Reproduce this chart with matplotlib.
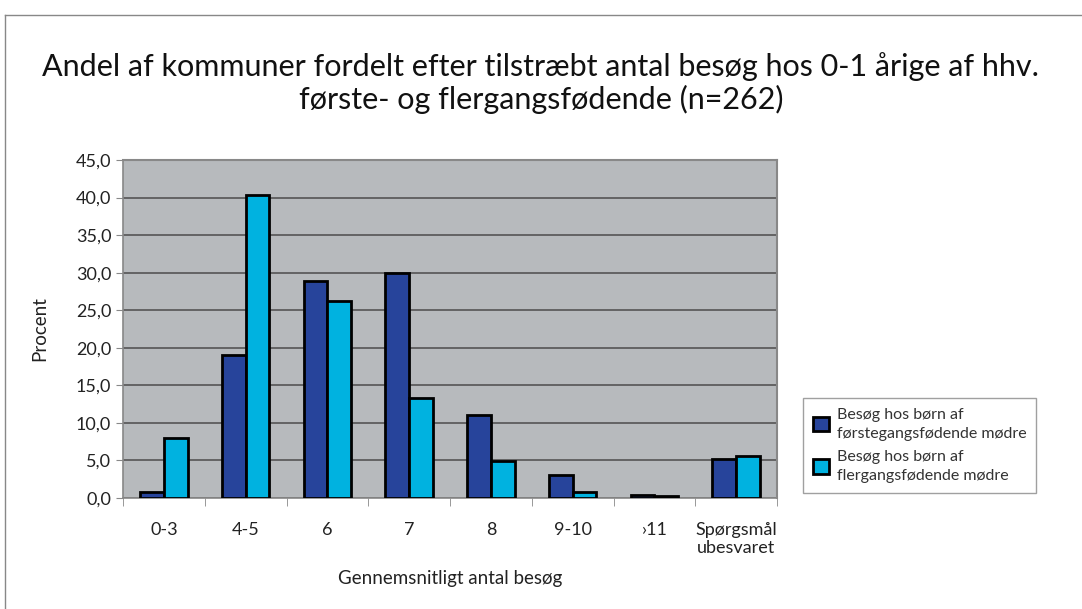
import matplotlib
matplotlib.use("Agg")
import matplotlib.pyplot as plt
import numpy as np
from matplotlib.ticker import FuncFormatter, FixedLocator

categories = ["0-3", "4-5", "6", "7", "8", "9-10", "›11", "Spørgsmål\nubesvaret"]
first_time = [0.8, 19.0, 28.9, 29.9, 11.0, 3.1, 0.4, 5.2]
multi_time = [8.0, 40.3, 26.2, 13.3, 4.9, 0.8, 0.3, 5.6]
series_labels = ["Besøg hos børn af\nførstegangsfødende mødre",
                 "Besøg hos børn af\nflergangsfødende mødre"]
title = "Andel af kommuner fordelt efter tilstræbt antal besøg hos 0-1 årige af hhv.\nførste- og flergangsfødende (n=262)"

plt.rcParams['font.family'] = ['Lato', 'DejaVu Sans']

fig = plt.figure(figsize=(10.82, 6.09), dpi=100)
ax = fig.add_axes([123/1082, 1-498/609, (777-123)/1082, (498-160)/609])

x = np.arange(len(categories))
w = 0.29
ax.bar(x - w/2, first_time, width=w, color="#27449B", edgecolor="black", linewidth=2, label=series_labels[0], zorder=3)
ax.bar(x + w/2, multi_time, width=w, color="#00B2E0", edgecolor="black", linewidth=2, label=series_labels[1], zorder=3)

ax.set_facecolor("#B7BABD")
ax.set_xlim(-0.5, len(categories) - 0.5)
ax.set_ylim(0, 45)
ax.set_yticks(np.arange(0, 46, 5))
ax.yaxis.set_major_formatter(FuncFormatter(lambda v, p: f"{v:.1f}".replace(".", ",")))
ax.grid(axis="y", color="#555555", linewidth=1.2, zorder=1)
ax.set_xticks(x)
ax.set_xticklabels(categories, fontsize=13, color="#222222", linespacing=1.2)
ax.xaxis.set_minor_locator(FixedLocator(np.arange(-0.5, len(categories), 1)))
ax.tick_params(axis="x", which="major", length=0, pad=17)
ax.tick_params(axis="x", which="minor", length=6, color="#888888", direction="out")
ax.tick_params(axis="y", labelsize=13, labelcolor="#222222", length=5, color="#888888")
for s in ["top", "right"]:
    ax.spines[s].set_color("#888888")
    ax.spines[s].set_linewidth(1.5)
for s in ["left", "bottom"]:
    ax.spines[s].set_color("#888888")
    ax.spines[s].set_linewidth(1.2)
ax.set_xlabel("Gennemsnitligt antal besøg", fontsize=13.5, color="#222222", labelpad=10)
ax.set_ylabel("Procent", fontsize=13.5, color="#222222", labelpad=20)

fig.text(0.5, 1-83/609, title, ha="center", va="center", fontsize=22, color="#111111", linespacing=1.15)

leg = fig.legend(loc="upper left", bbox_to_anchor=(803/1082, 1-398/609), frameon=True,
                 fontsize=11.5, handlelength=1.0, handleheight=1.0, fancybox=False,
                 borderpad=0.6, labelspacing=0.6, handletextpad=0.5, borderaxespad=0)
leg.get_frame().set_edgecolor("#888888")
leg.get_frame().set_linewidth(1.0)
for t in leg.get_texts():
    t.set_color("#333333")
    t.set_linespacing(1.45)

# outer frame lines (top and left)
fig.add_artist(plt.Line2D([5/1082, 1], [1-15/609, 1-15/609], transform=fig.transFigure, color="#888888", linewidth=1))
fig.add_artist(plt.Line2D([5/1082, 5/1082], [0, 1-15/609], transform=fig.transFigure, color="#888888", linewidth=1))

fig.savefig("out.png", dpi=100)
